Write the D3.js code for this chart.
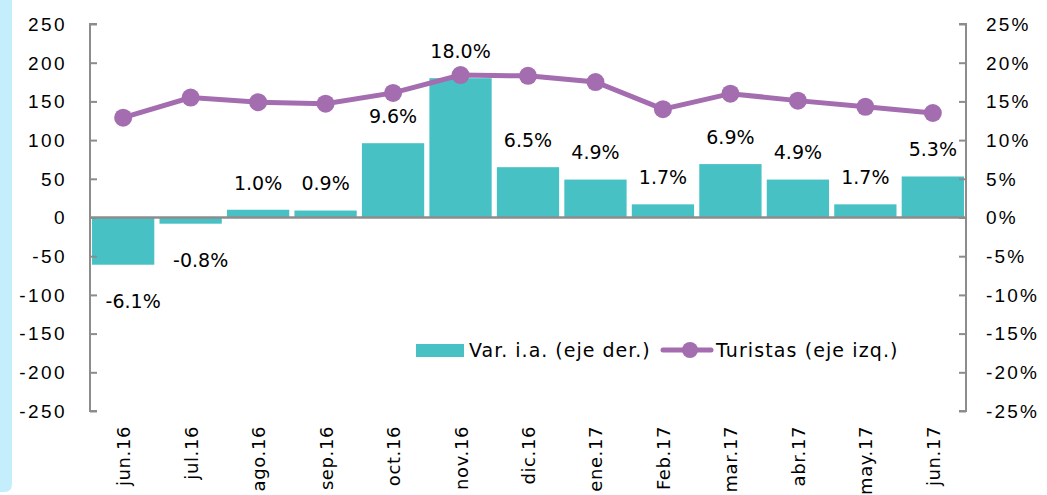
<!DOCTYPE html>
<html lang="es">
  <head>
    <meta charset="utf-8">
    <title>Turistas</title>
    <script src="https://d3js.org/d3.v7.min.js"></script>
    <style>
      body { margin: 0; background: #fff; }
      text { fill: #000; }
    </style>
  </head>
  <body>
    <div id="chart"></div>
    <script type="text/javascript">
      // data
      const months = ["jun.16", "jul.16", "ago.16", "sep.16", "oct.16", "nov.16", "dic.16",
                      "ene.17", "Feb.17", "mar.17", "abr.17", "may.17", "jun.17"];
      const turistas = [129, 155, 149, 147, 161, 184, 183, 175, 140, 160, 151, 143, 135];
      const varIa = [-6.1, -0.8, 1.0, 0.9, 9.6, 18.0, 6.5, 4.9, 1.7, 6.9, 4.9, 1.7, 5.3];
      const leftTicks = [-250, -200, -150, -100, -50, 0, 50, 100, 150, 200, 250];
      const rightTicks = [-25, -20, -15, -10, -5, 0, 5, 10, 15, 20, 25];

      function drawChart() {
          let svgWidth = 1047,
              svgHeight = 495;

          let left = 90, right = 966, top = 24, bottom = 411;

          let barColor = "#48c1c5",
              lineColor = "#a46db0",
              axisColor = "#8c8c8c",
              tickFont = "'Liberation Sans', Arial, sans-serif",
              labelFont = "'DejaVu Sans', sans-serif";

          let svg = d3.select("#chart")
              .append("svg")
              .attr("width", svgWidth)
              .attr("height", svgHeight);

          // light blue strip at left edge
          svg.append("path")
              .attr("d", "M0,0 H12 V484 Q12,492 4,492 H0 Z")
              .attr("fill", "#c4eefc");

          let x = d3.scaleBand()
              .domain(months)
              .range([left, right])
              .paddingInner(0.077)
              .paddingOuter(0.03);

          let yL = d3.scaleLinear().domain([-250, 250]).range([bottom, top]);
          let yR = d3.scaleLinear().domain([-25, 25]).range([bottom, top]);

          // bars
          svg.append("g")
              .selectAll("rect")
              .data(varIa)
              .join("rect")
              .attr("x", (d, i) => x(months[i]))
              .attr("width", x.bandwidth())
              .attr("y", d => yR(Math.max(0, d)))
              .attr("height", d => Math.abs(yR(d) - yR(0)))
              .attr("fill", barColor);

          // left axis
          let gL = svg.append("g")
              .attr("transform", "translate(" + left + ",0)")
              .call(d3.axisRight(yL).tickValues(leftTicks).tickSize(7).tickFormat(""));
          gL.selectAll("line, path").attr("stroke", axisColor).attr("stroke-width", 2);
          gL.select("path").attr("d", "M7," + top + "H0V" + bottom + "H7");

          svg.append("g")
              .selectAll("text")
              .data(leftTicks)
              .join("text")
              .attr("x", 67)
              .attr("y", d => yL(d))
              .attr("dy", "0.36em")
              .attr("text-anchor", "end")
              .attr("font-family", tickFont)
              .attr("font-size", 19)
              .attr("letter-spacing", 2.4)
              .text(d => d);

          // right axis
          let gR = svg.append("g")
              .attr("transform", "translate(" + right + ",0)")
              .call(d3.axisLeft(yR).tickValues(rightTicks).tickSize(7).tickFormat(""));
          gR.selectAll("line, path").attr("stroke", axisColor).attr("stroke-width", 2);
          gR.select("path").attr("d", "M-7," + top + "H0V" + bottom + "H-7");

          svg.append("g")
              .selectAll("text")
              .data(rightTicks)
              .join("text")
              .attr("x", 986)
              .attr("y", d => yR(d))
              .attr("dy", "0.36em")
              .attr("text-anchor", "start")
              .attr("font-family", tickFont)
              .attr("font-size", 19)
              .attr("letter-spacing", 2.2)
              .text(d => d + "%");

          // zero line
          svg.append("line")
              .attr("x1", left).attr("x2", right)
              .attr("y1", yL(0)).attr("y2", yL(0))
              .attr("stroke", axisColor)
              .attr("stroke-width", 2.5);

          // category labels
          svg.append("g")
              .selectAll("text")
              .data(months)
              .join("text")
              .attr("transform", d => "translate(" + (x(d) + x.bandwidth() / 2 + 7) + ",426) rotate(-90)")
              .attr("text-anchor", "end")
              .attr("font-family", labelFont)
              .attr("font-size", 18)
              .attr("letter-spacing", 0.6)
              .text(d => d);

          // line
          let line = d3.line()
              .x((d, i) => x(months[i]) + x.bandwidth() / 2)
              .y(d => yL(d));

          svg.append("path")
              .datum(turistas)
              .attr("d", line)
              .attr("fill", "none")
              .attr("stroke", lineColor)
              .attr("stroke-width", 5);

          svg.append("g")
              .selectAll("circle")
              .data(turistas)
              .join("circle")
              .attr("cx", (d, i) => x(months[i]) + x.bandwidth() / 2)
              .attr("cy", d => yL(d))
              .attr("r", 9)
              .attr("fill", lineColor);

          // data labels
          svg.append("g")
              .selectAll("text")
              .data(varIa)
              .join("text")
              .attr("x", (d, i) => x(months[i]) + x.bandwidth() / 2 + (d < 0 ? 10 : 0))
              .attr("y", d => d < 0 ? yR(d) + 36 : yR(d) - 27)
              .attr("dy", "0.36em")
              .attr("text-anchor", "middle")
              .attr("font-family", labelFont)
              .attr("font-size", 19)
              .text(d => d.toFixed(1) + "%");

          // legend
          let lg = svg.append("g");
          lg.append("rect")
              .attr("x", 416).attr("y", 344)
              .attr("width", 48).attr("height", 13)
              .attr("fill", barColor);
          lg.append("text")
              .attr("x", 469).attr("y", 350)
              .attr("dy", "0.36em")
              .attr("font-family", labelFont)
              .attr("font-size", 19)
              .attr("letter-spacing", 1)
              .text("Var. i.a. (eje der.)");
          lg.append("line")
              .attr("x1", 663).attr("x2", 711)
              .attr("y1", 350).attr("y2", 350)
              .attr("stroke", lineColor)
              .attr("stroke-width", 5)
              .attr("stroke-linecap", "round");
          lg.append("circle")
              .attr("cx", 690).attr("cy", 350)
              .attr("r", 8)
              .attr("fill", lineColor);
          lg.append("text")
              .attr("x", 716).attr("y", 350)
              .attr("dy", "0.36em")
              .attr("font-family", labelFont)
              .attr("font-size", 19)
              .attr("letter-spacing", 1.1)
              .text("Turistas (eje izq.)");
      }

      drawChart();
    </script>
  </body>
</html>
